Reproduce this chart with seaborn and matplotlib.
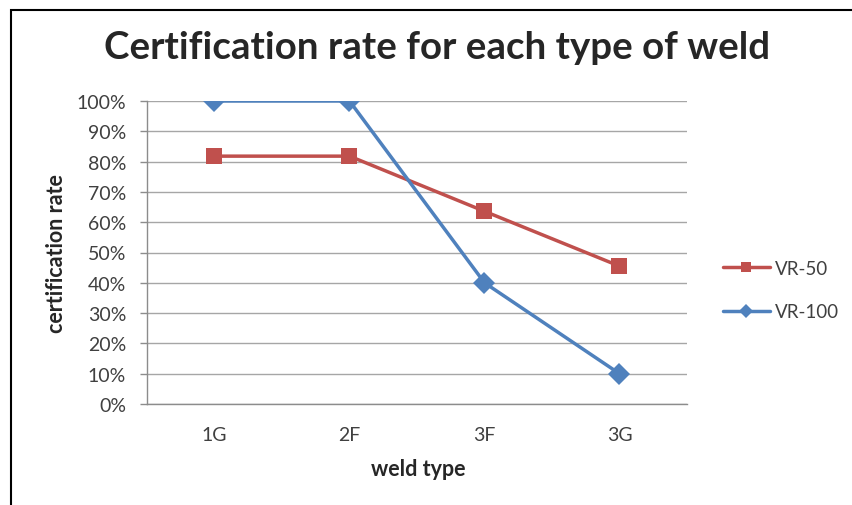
import pandas as pd
import matplotlib.pyplot as plt
import matplotlib.patches as mpatches
import seaborn as sns
from matplotlib.ticker import PercentFormatter, FixedLocator

# values
weld_types = ['1G', '2F', '3F', '3G']
vr50 = [0.818, 0.818, 0.636, 0.455]
vr100 = [1.00, 1.00, 0.40, 0.10]

df = pd.DataFrame({
    'weld type': weld_types * 2,
    'rate': vr50 + vr100,
    'series': ['VR-50'] * 4 + ['VR-100'] * 4,
})

sns.set_theme(style='white')
plt.rcParams['font.family'] = ['Lato', 'DejaVu Sans']

fig = plt.figure(figsize=(8.53, 5.06), dpi=100)
ax = fig.add_axes([147 / 853, 1 - 405 / 506, 540 / 853, 303 / 506])

palette = {'VR-50': '#C0504D', 'VR-100': '#4F81BD'}
markers = {'VR-50': 's', 'VR-100': 'D'}
sns.lineplot(data=df, x='weld type', y='rate', hue='series', style='series',
             markers=markers, dashes=False, palette=palette, linewidth=2.5,
             markersize=11, markeredgewidth=0, ax=ax, sort=False)

ax.set_xlim(-0.5, 3.5)
ax.set_ylim(0, 1)
ax.yaxis.set_major_locator(FixedLocator([i / 10 for i in range(11)]))
ax.yaxis.set_major_formatter(PercentFormatter(1.0, decimals=0))
ax.grid(axis='y', color='#A6A6A6', linewidth=1)
ax.set_axisbelow(True)

for s in ['top', 'right']:
    ax.spines[s].set_visible(False)
for s in ['left', 'bottom']:
    ax.spines[s].set_color('#8C8C8C')
    ax.spines[s].set_linewidth(1)

ax.set_xticks(range(len(weld_types)))
ax.set_xticklabels(weld_types)
ax.set_xticks([-0.5, 0.5, 1.5, 2.5, 3.5], minor=True)
ax.tick_params(axis='x', which='major', length=0, pad=16, labelsize=14, labelcolor='#404040')
ax.tick_params(axis='x', which='minor', length=5, width=1, color='#8C8C8C', direction='out')
ax.tick_params(axis='y', length=5, width=1, color='#8C8C8C', direction='out',
               left=True, labelsize=14, labelcolor='#404040', pad=10)

ax.set_xlabel('weld type', fontsize=15.5, fontweight='bold')
ax.set_ylabel('certification rate', fontsize=15.5, fontweight='bold')
ax.xaxis.set_label_coords(418 / 853, 1 - 470 / 506, transform=fig.transFigure)
ax.yaxis.set_label_coords(57 / 853, 1 - 254 / 506, transform=fig.transFigure)
ax.xaxis.label.set_va('center')
ax.yaxis.label.set_va('center')

fig.text(437 / 853, 1 - 48 / 506, 'Certification rate for each type of weld',
         ha='center', va='center', fontsize=27.7, fontweight='bold')

handles, labels = ax.get_legend_handles_labels()
ax.legend(handles, labels, loc='center left', bbox_to_anchor=(723 / 853, 1 - 291 / 506),
          bbox_transform=fig.transFigure, frameon=False, fontsize=13.5,
          borderpad=0, borderaxespad=0,
          handlelength=2.5, handletextpad=0.25, labelspacing=1.4, labelcolor='#404040',
          markerscale=0.65)

fig.patches.append(mpatches.Rectangle((11 / 853, -0.1), 1.2, 1 - 11 / 506 + 0.1,
                                      transform=fig.transFigure, fill=False,
                                      edgecolor='black', linewidth=1.5))

fig.savefig('out.png', dpi=100)
